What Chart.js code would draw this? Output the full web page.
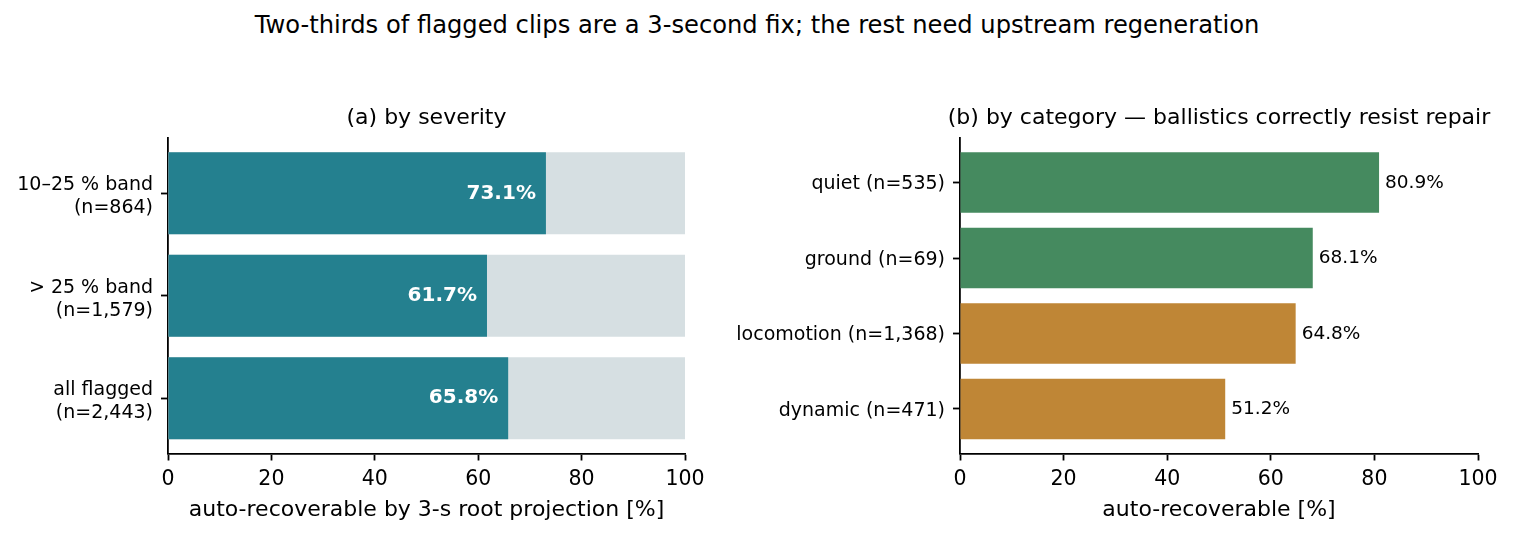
<!DOCTYPE html>
<html>
<head>
<meta charset="utf-8">
<title>Auto-recoverable flagged clips</title>
<script src="https://cdn.jsdelivr.net/npm/chart.js@4.4.1/dist/chart.umd.min.js"></script>
<style>
    html, body { margin: 0; padding: 0; background: #fff; }
    #figure { position: relative; width: 1514px; height: 539px; overflow: hidden; font-family: 'DejaVu Sans', sans-serif; }
    #suptitle { position: absolute; left: 0; top: 11px; width: 1514px; text-align: center; font-size: 24.2px; line-height: 28px; color: #000; }
    .panel { position: absolute; top: 90px; height: 449px; }
    #panel-a { left: 0; width: 720px; }
    #panel-b { left: 720px; width: 794px; }
</style>
</head>
<body>
<div id="figure">
    <div id="suptitle">Two-thirds of flagged clips are a 3-second fix; the rest need upstream regeneration</div>
    <div class="panel" id="panel-a"><canvas id="severityChart"></canvas></div>
    <div class="panel" id="panel-b"><canvas id="categoryChart"></canvas></div>
</div>
<script>
// panel (a): by severity
const severityLabels = [['10–25 % band', '(n=864)'], ['> 25 % band', '(n=1,579)'], ['all flagged', '(n=2,443)']];
const severityRecoverable = [73.1, 61.7, 65.8];
const severityTrack = [100, 100, 100];

// panel (b): by category
const categoryLabels = ['quiet (n=535)', 'ground (n=69)', 'locomotion (n=1,368)', 'dynamic (n=471)'];
const categoryRecoverable = [80.9, 68.1, 64.8, 51.2];
const categoryBallistic = [false, false, true, true];

const xTicks = [0, 20, 40, 60, 80, 100];

const COLORS = {
    teal: '#24808f',
    track: '#d6dfe2',
    green: '#458a5f',
    orange: '#bf8636',
    axis: '#000000'
};

Chart.defaults.font.family = "'DejaVu Sans', sans-serif";
Chart.defaults.color = '#000';
Chart.defaults.animation = false;

// subtitle centred over the plot area, not the canvas
const panelTitle = {
    id: 'panelTitle',
    afterDraw(chart, args, opts) {
        const { ctx, chartArea } = chart;
        ctx.save();
        ctx.font = `${opts.size}px 'DejaVu Sans'`;
        ctx.fillStyle = '#000';
        ctx.textAlign = 'center';
        ctx.textBaseline = 'middle';
        ctx.fillText(opts.text, (chartArea.left + chartArea.right) / 2, chartArea.top - opts.gap);
        ctx.restore();
    }
};

// percentage next to / inside each bar of dataset 0
const valueLabels = {
    id: 'valueLabels',
    afterDatasetsDraw(chart, args, opts) {
        const { ctx } = chart;
        const meta = chart.getDatasetMeta(0);
        const points = chart.data.datasets[0].data;
        ctx.save();
        ctx.font = `${opts.weight} ${opts.size}px 'DejaVu Sans'`;
        ctx.fillStyle = opts.color;
        ctx.textAlign = opts.inside ? 'right' : 'left';
        ctx.textBaseline = 'middle';
        meta.data.forEach((bar, i) => {
            const x = opts.inside ? bar.x - opts.gap : bar.x + opts.gap;
            ctx.fillText(`${points[i].x.toFixed(1)}%`, x, bar.y + opts.shift);
        });
        ctx.restore();
    }
};

const makeOptions = ({ labels, axisWidth, padRight, xTitle, subtitle, labelOffset }) => ({
    indexAxis: 'y',
    responsive: true,
    maintainAspectRatio: false,
    layout: { padding: { top: 48, right: padRight, bottom: 0, left: 0 } },
    scales: {
        x: {
            type: 'linear',
            min: 0,
            max: 100,
            afterBuildTicks: (scale) => { scale.ticks = xTicks.map(v => ({ value: v })); },
            afterFit: (scale) => { scale.height = 85.5; },
            ticks: { font: { size: 20.5 }, padding: 7, color: '#000' },
            grid: { display: true, drawOnChartArea: false, drawTicks: true, tickLength: 7, tickColor: COLORS.axis, tickWidth: 1.8 },
            border: { display: true, color: COLORS.axis, width: 1.8 },
            title: { display: true, text: xTitle, font: { size: 22 }, color: '#000', padding: { top: 0, bottom: 16 } }
        },
        y: {
            type: 'linear',
            reverse: true,
            offset: false,
            // matplotlib-style 5 % margins around bars of height 0.8
            min: -0.4 - 0.05 * (labels.length - 1 + 0.8),
            max: labels.length - 1 + 0.4 + 0.05 * (labels.length - 1 + 0.8),
            afterBuildTicks: (scale) => { scale.ticks = labels.map((_, i) => ({ value: i })); },
            afterFit: (scale) => { scale.width = axisWidth; },
            ticks: {
                font: { size: 19 },
                padding: 8,
                color: '#000',
                labelOffset,
                callback: (value) => labels[value]
            },
            grid: { display: true, offset: false, drawOnChartArea: false, drawTicks: true, tickLength: 7, tickColor: COLORS.axis, tickWidth: 1.8 },
            border: { display: true, color: COLORS.axis, width: 1.8 }
        }
    },
    plugins: {
        legend: { display: false },
        tooltip: { enabled: false },
        panelTitle: { text: subtitle, size: 22, gap: 20 }
    }
});

const severityOptions = makeOptions({
    labels: severityLabels,
    axisWidth: 168,
    padRight: 35,
    xTitle: 'auto-recoverable by 3-s root projection [%]',
    subtitle: '(a) by severity',
    labelOffset: 3.5
});
severityOptions.plugins.valueLabels = { inside: true, gap: 10, shift: 0, size: 20, weight: 'bold', color: '#ffffff' };

new Chart(document.getElementById('severityChart'), {
    type: 'bar',
    data: {
        datasets: [
            {
                label: 'auto-recoverable',
                data: severityRecoverable.map((v, i) => ({ x: v, y: i })),
                backgroundColor: COLORS.teal,
                borderWidth: 0,
                grouped: false,
                categoryPercentage: 1,
                barPercentage: 0.8
            },
            {
                label: 'flagged',
                data: severityTrack.map((v, i) => ({ x: v, y: i })),
                backgroundColor: COLORS.track,
                borderWidth: 0,
                grouped: false,
                categoryPercentage: 1,
                barPercentage: 0.8
            }
        ]
    },
    options: severityOptions,
    plugins: [panelTitle, valueLabels]
});

const categoryOptions = makeOptions({
    labels: categoryLabels,
    axisWidth: 240,
    padRight: 36,
    xTitle: 'auto-recoverable [%]',
    subtitle: '(b) by category — ballistics correctly resist repair',
    labelOffset: 2
});
categoryOptions.plugins.valueLabels = { inside: false, gap: 6, shift: 0.5, size: 18.5, weight: 'normal', color: '#000000' };

new Chart(document.getElementById('categoryChart'), {
    type: 'bar',
    data: {
        datasets: [{
            label: 'auto-recoverable',
            data: categoryRecoverable.map((v, i) => ({ x: v, y: i })),
            backgroundColor: categoryBallistic.map(b => b ? COLORS.orange : COLORS.green),
            borderWidth: 0,
            categoryPercentage: 1,
            barPercentage: 0.8
        }]
    },
    options: categoryOptions,
    plugins: [panelTitle, valueLabels]
});
</script>
</body>
</html>
